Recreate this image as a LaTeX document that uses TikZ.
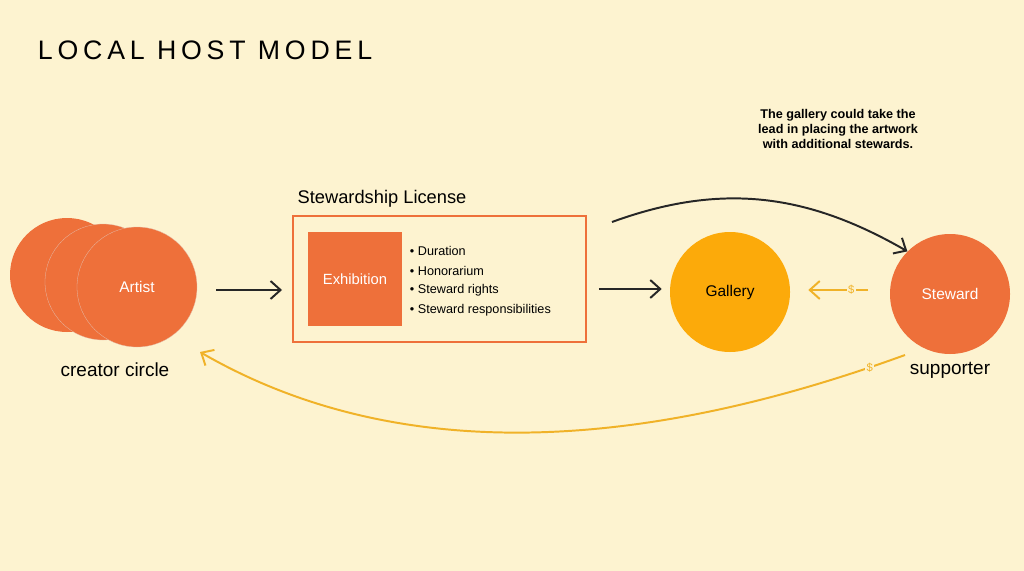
\documentclass[tikz,border=0pt]{standalone}
\usepackage{fontspec}
\setmainfont{Liberation Sans}
\newfontfamily\titlefont[LetterSpace=18]{Liberation Sans}
\usetikzlibrary{arrows.meta,positioning}
\definecolor{bgcream}{RGB}{253,243,208}
\definecolor{hostorange}{RGB}{238,112,58}
\definecolor{galleryyellow}{RGB}{252,170,10}
\definecolor{moneyline}{RGB}{240,178,40}
\begin{document}
\begin{tikzpicture}[x=0.025cm,y=-0.025cm,
        person/.style={circle, fill=hostorange, text=white, minimum size=120*0.025cm, font=\fontsize{11}{13}\selectfont},
        caption/.style={font=\fontsize{13.5}{15}\selectfont, text=black},
        arrow/.style={-{Straight Barb[length=2.5mm,width=4.5mm]}, line width=1.4pt, black!85},
        money/.style={-{Straight Barb[length=2.5mm,width=4.5mm]}, line width=1.4pt, moneyline},
        item/.style={font=\fontsize{9}{11}\selectfont, anchor=west}
    ]
        \fill[bgcream] (0,0) rectangle (1024,571);

        % Title
        \node[anchor=west, font=\titlefont\fontsize{19}{24}\selectfont] (title) at (33,50) {LOCAL HOST MODEL};

        % Creator circle
        \node[person, minimum size=114*0.025cm] (back) at (67,275) {};
        \node[person, minimum size=116*0.025cm, draw=hostorange!80!black!40, line width=0.2pt] (mid) at (103,282) {};
        \node[person, draw=hostorange!80!black!40, line width=0.2pt] (artist) at (137,287) {Artist};
        \node[caption] (creator) at (115,370) {creator circle};

        % License box
        \node[draw=hostorange, line width=1.4pt, minimum width=293*0.025cm, minimum height=126*0.025cm] (license) at (439.5,279) {};
        \node[anchor=south west, font=\fontsize{13}{15}\selectfont, inner sep=1pt] (lictitle) at (296,209) {Stewardship License};
        \node[fill=hostorange, text=white, minimum width=94*0.025cm, minimum height=94*0.025cm, font=\fontsize{10.5}{13}\selectfont] (exhib) at (355,279) {Exhibition};
        \node[item] (dur) at (405,251) {• Duration};
        \node[item] (hon) at (405,271) {• Honorarium};
        \node[item] (rig) at (405,290) {• Steward rights};
        \node[item] (res) at (405,310) {• Steward responsibilities};

        % Gallery and steward
        \node[person, fill=galleryyellow, text=black] (gallery) at (730,292) {Gallery};
        \node[person] (steward) at (950,294) {Steward};
        \node[caption] (supporter) at (950,370) {supporter};

        % Note
        \node[align=center, font=\bfseries\fontsize{9}{11}\selectfont] (note) at (838,129) {The gallery could take the\\lead in placing the artwork\\with additional stewards.};

        % Arrows
        \draw[arrow] (artist.east) ++(19,3) coordinate (a1) -- ([xshift=-10*0.025cm]license.west |- a1);
        \draw[arrow] (license.east) ++(12,10) coordinate (a2) -- ([xshift=-8*0.025cm]gallery.west |- a2);
        \coordinate (topstart) at (612,222);
        \draw[arrow] (topstart) to[out=20, in=150] (steward.north west);
        \coordinate (mstart) at (868,290);
        \draw[money] (mstart) -- node[pos=0.28, fill=bgcream, inner sep=1pt, font=\fontsize{8}{9}\selectfont] {\$} ([xshift=18*0.025cm]gallery.east |- mstart);
        \coordinate (bstart) at (905,355);
        \coordinate (bend) at (200,352);
        \draw[money] (bstart) to[out=200, in=-30, looseness=0.9] node[pos=0.05, fill=bgcream, inner sep=1pt, font=\fontsize{8}{9}\selectfont] {\$} (bend);
    \end{tikzpicture}
\end{document}
